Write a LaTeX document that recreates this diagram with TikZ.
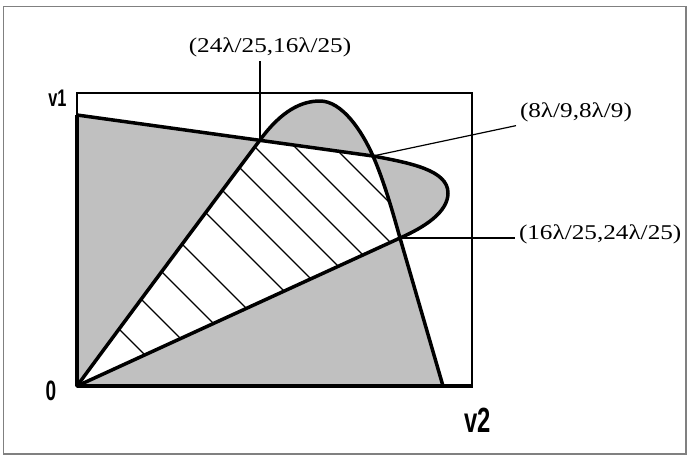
\documentclass[tikz,border=0pt]{standalone}
\usepackage{fontspec}
\setmainfont{Liberation Serif}
\newfontfamily\trucfont{Liberation Sans}
\usepackage{tikz}
\definecolor{vungxam}{RGB}{192,192,192}
\definecolor{khung}{RGB}{128,128,128}
\usetikzlibrary{calc}

\tikzset{
    duong/.style={line width=3.5pt, line join=round},
    manh/.style={line width=1.2pt},
    nhan/.style={inner sep=0pt, outer sep=4pt},
    truc/.style={inner sep=0pt, font=\trucfont\bfseries},
}
\newcommand{\toado}[1]{\scalebox{1.2}[1]{\fontsize{21}{21}\selectfont #1}}
\newcommand{\tentruc}[2]{\scalebox{0.68}[1]{\fontsize{#1}{#1}\selectfont #2}}

\begin{document}
\begin{tikzpicture}[x=1pt, y=-1pt]
    \useasboundingbox (0,0) rectangle (688,456);
    % Khung ngoài
    \draw[khung, line width=1.5pt] (3.5,6.5) rectangle (686,454);
    % Các điểm
    \coordinate (O) at (77,386);
    \coordinate (T) at (77,115);
    \coordinate (A) at (260,140);
    \coordinate (B) at (373,156);
    \coordinate (C) at (400,238);
    \coordinate (E) at (443,386);
    \coordinate (P) at (320,101);
    \coordinate (L) at (448,193);
    % Hai miền tô xám, phần chung để trắng
    \fill[vungxam, even odd rule]
        (O) -- (T) -- (B) .. controls (410,163) and (448,170) .. (L)
            .. controls (448,212) and (425,227) .. (C) -- cycle
        (O) .. controls (138,303) and (230,180) .. (A)
            .. controls (282,110) and (302,101) .. (P)
            .. controls (342,101) and (362,131) .. (B)
            .. controls (384,181) and (393,213) .. (C) -- (E) -- cycle;
    % Gạch chéo phần chung
    \begin{scope}
        \clip (O) .. controls (138,303) and (230,180) .. (A) -- (B)
            .. controls (384,181) and (393,213) .. (C) -- cycle;
        \foreach \c in {210,158,110,62,7,-32,-72,-108,-148,-187}
            \draw[manh] (60,60+\c) -- (460,460+\c);
    \end{scope}
    % Khung trong và hai trục
    \draw[line width=1.5pt] (O) rectangle (472,93);
    \draw[duong] (T) -- (O) -- (473,386);
    % Các đường biên
    \draw[duong] (T) -- (B) .. controls (410,163) and (448,170) .. (L)
        .. controls (448,212) and (425,227) .. (C) -- (O);
    \draw[duong] (O) .. controls (138,303) and (230,180) .. (A)
        .. controls (282,110) and (302,101) .. (P)
        .. controls (342,101) and (362,131) .. (B)
        .. controls (384,181) and (393,213) .. (C) -- (E);
    % Nhãn các giao điểm
    \node[nhan] (nhanA) at (270,47.5) {\toado{(24λ/25,16λ/25)}};
    \node[nhan, anchor=west] (nhanB) at (516,112) {\toado{(8λ/9,8λ/9)}};
    \node[nhan, anchor=west] (nhanC) at (515,234) {\toado{(16λ/25,24λ/25)}};
    \draw[manh] (A) -- (A |- nhanA.south);
    \draw[manh] (B) -- (nhanB.south west);
    \draw[manh] (C) -- (C -| nhanC.west);
    % Tên trục
    \node[truc] (v1) at (57.5,98) {\tentruc{24}{v1}};
    \node[truc] (goc) at (51,391) {\tentruc{28}{0}};
    \node[truc] (v2) at (477.5,420.5) {\tentruc{35}{v2}};
\end{tikzpicture}
\end{document}
